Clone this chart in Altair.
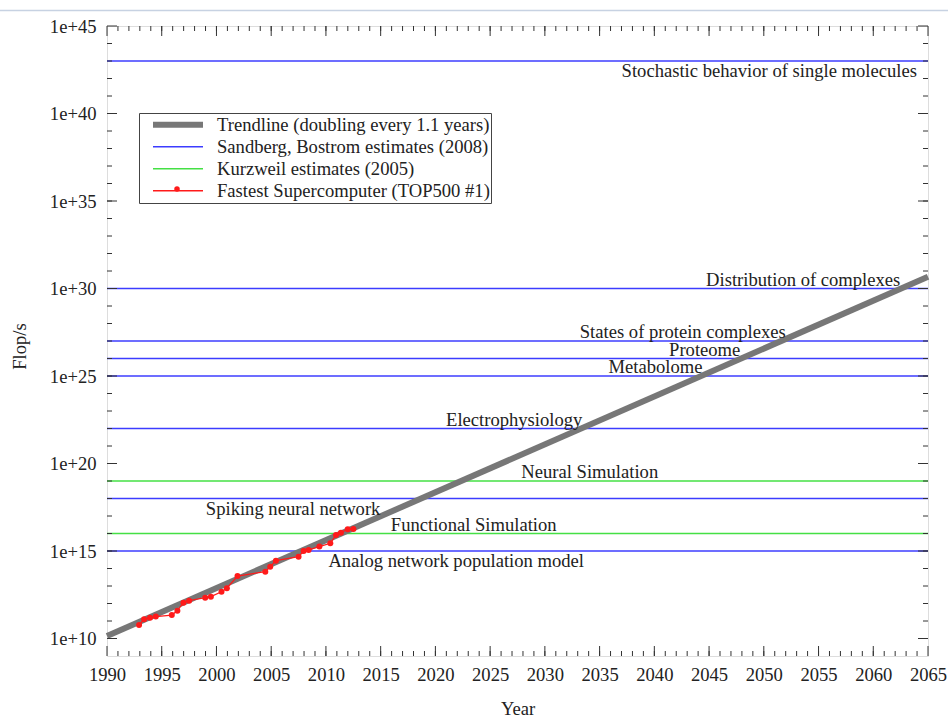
import altair as alt
import pandas as pd

FONT = "Liberation Serif"
FS = 18.6

# ---- data -------------------------------------------------------------
series_names = [
    "Trendline (doubling every 1.1 years)",
    "Sandberg, Bostrom estimates (2008)",
    "Kurzweil estimates (2005)",
    "Fastest Supercomputer (TOP500 #1)",
]
series_colors = ["#777777", "#3c3cff", "#44e044", "#ff1a1a"]
series_widths = [6, 1.3, 1.3, 1.3]

trend_years = [1990, 2065]
trend_flops = [1.4e10, 4.7e30]

sc_years = [1992.93, 1993.39, 1993.93, 1994.46, 1995.92, 1996.43, 1996.98, 1997.5,
            1998.97, 1999.49, 2000.46, 2000.95, 2001.92, 2004.46, 2004.91, 2005.43,
            2007.5, 2007.96, 2008.42, 2009.4, 2010.4, 2010.92, 2011.37, 2011.99, 2012.51]
sc_flops = [5.9e10, 1.26e11, 1.55e11, 1.78e11, 2.19e11, 3.9e11, 1.12e12, 1.45e12,
            2.14e12, 2.45e12, 4.7e12, 7.4e12, 3.7e13, 6.6e13, 1.26e14, 2.8e14,
            4.7e14, 1.0e15, 1.15e15, 1.78e15, 2.75e15, 8.1e15, 1.12e16, 1.74e16, 1.82e16]

sandberg_values = [1e43, 1e30, 1e27, 1e26, 1e25, 1e22, 1e18, 1e15]
kurzweil_values = [1e19, 1e16]

label_text = ["Stochastic behavior of single molecules", "Distribution of complexes",
              "States of protein complexes", "Proteome", "Metabolome", "Electrophysiology",
              "Neural Simulation", "Spiking neural network", "Functional Simulation",
              "Analog network population model"]
label_value = [1e43, 1e30, 1e27, 1e26, 1e25, 1e22, 1e19, 1e18, 1e16, 1e15]
label_year = [2050.5, 2053.6, 2042.6, 2044.6, 2040.1, 2027.2, 2034.1, 2007.0, 2023.5, 2021.9]
label_side = ["below", "above", "above", "above", "above", "above", "above", "below", "above", "below"]

x_major = list(range(1990, 2066, 5))
x_minor = list(range(1991, 2065))
y_major_exp = [10, 15, 20, 25, 30, 35, 40, 45]
y_minor_exp = list(range(10, 45))

# ---- frames -----------------------------------------------------------
trend_df = pd.DataFrame({"year": trend_years, "flops": trend_flops, "series": series_names[0]})
sc_df = pd.DataFrame({"year": sc_years, "flops": sc_flops, "series": series_names[3]})
hl_df = pd.DataFrame({
    "flops": sandberg_values + kurzweil_values,
    "series": [series_names[1]] * len(sandberg_values) + [series_names[2]] * len(kurzweil_values),
})
lab_df = pd.DataFrame({"label": label_text, "flops": label_value, "year": label_year, "side": label_side})
xmaj_df = pd.DataFrame({"year": x_major})
xmin_df = pd.DataFrame({"year": x_minor})
ymaj_df = pd.DataFrame({"flops": [10.0 ** e for e in y_major_exp]})
ymin_df = pd.DataFrame({"flops": [10.0 ** e for e in y_minor_exp]})

W, H = 821, 630

xscale = alt.Scale(domain=[1990, 2065], nice=False, zero=False)
yscale = alt.Scale(type="log", domain=[1e9, 1e45], nice=False)

xaxis = alt.Axis(values=x_major, format="d", ticks=False, domain=False, grid=False,
                 labelFlush=False, labelOverlap=False,
                 labelFont=FONT, labelFontSize=FS, labelColor="#222", labelPadding=9,
                 title="Year", titleFont=FONT, titleFontSize=FS, titleFontWeight="normal",
                 titleColor="#222", titleX=W / 2, titleY=52, titleBaseline="middle")
yaxis = alt.Axis(values=[10.0 ** e for e in y_major_exp],
                 labelExpr="'1e+' + round(log(datum.value) / LN10)",
                 ticks=False, domain=False, grid=False, labelFlush=False, labelOverlap=False,
                 labelFont=FONT, labelFontSize=FS, labelColor="#222", labelPadding=11,
                 title="Flop/s", titleFont=FONT, titleFontSize=FS, titleFontWeight="normal",
                 titleColor="#222", titleX=-88, titleY=320, titleBaseline="middle")


def X(field="year"):
    return alt.X(f"{field}:Q", scale=xscale, axis=xaxis)


def Y(field="flops"):
    return alt.Y(f"{field}:Q", scale=yscale, axis=yaxis)


legend = alt.Legend(orient="none", legendX=32, legendY=87, title=None,
                    strokeColor="#444", padding=1,
                    labelFont=FONT, labelFontSize=FS, labelColor="#222",
                    symbolSize=2500, symbolOffset=10, labelOffset=11,
                    clipHeight=21.5, rowPadding=0, labelLimit=400)
color = alt.Color("series:N", scale=alt.Scale(domain=series_names, range=series_colors), legend=legend)
swidth = alt.StrokeWidth("series:N", scale=alt.Scale(type="ordinal", domain=series_names, range=series_widths),
                         legend=legend)

hlines = alt.Chart(hl_df).mark_rule().encode(y=Y(), color=color, strokeWidth=swidth)
trend = alt.Chart(trend_df).mark_line(strokeCap="butt").encode(x=X(), y=Y(), color=color, strokeWidth=swidth)
sc_line = alt.Chart(sc_df).mark_line().encode(x=X(), y=Y(), color=color, strokeWidth=swidth)
sc_pts = alt.Chart(sc_df).mark_circle(size=36, opacity=1, color="#ff1a1a").encode(x=X(), y=Y())

# dot on the red legend sample (legend glyph decoration)
legend_dot = alt.Chart(xmaj_df.head(1)).mark_circle(size=30, opacity=1, color="#ff1a1a").encode(
    x=alt.value(70), y=alt.value(163))

txt_kw = dict(font=FONT, fontSize=FS, color="#222", align="center", baseline="middle")
lab_above = alt.Chart(lab_df).transform_filter("datum.side == 'above'").mark_text(dy=-9, **txt_kw).encode(
    x=X(), y=Y(), text="label:N")
lab_below = alt.Chart(lab_df).transform_filter("datum.side == 'below'").mark_text(dy=10, **txt_kw).encode(
    x=X(), y=Y(), text="label:N")

tick_color = "#333"
xt = []
for df, ln in ((xmaj_df, 10), (xmin_df, 5)):
    xt.append(alt.Chart(df).mark_rule(color=tick_color).encode(x=X(), y=alt.value(H), y2=alt.value(H - ln)))
    xt.append(alt.Chart(df).mark_rule(color=tick_color).encode(x=X(), y=alt.value(0), y2=alt.value(ln)))
yt = []
for df, ln in ((ymaj_df, 10), (ymin_df, 5)):
    yt.append(alt.Chart(df).mark_rule(color=tick_color).encode(y=Y(), x=alt.value(0), x2=alt.value(ln)))
    yt.append(alt.Chart(df).mark_rule(color=tick_color).encode(y=Y(), x=alt.value(W), x2=alt.value(W - ln)))

top_line = alt.Chart(xmaj_df.head(1)).mark_rule(color="#c7d2e2", strokeWidth=1.5).encode(
    x=alt.value(-107), x2=alt.value(841), y=alt.value(-15.5))

chart = alt.layer(
    top_line, hlines, trend, lab_above, lab_below, sc_line, sc_pts, *xt, *yt, legend_dot
).properties(
    width=W, height=H,
    autosize=alt.AutoSizeParams(type="none"),
    padding={"left": 107, "top": 26, "right": 20, "bottom": 61},
).configure_view(stroke="#333", strokeWidth=1.4).configure(background="white")

chart.save("out.html", embed_options={"renderer": "svg", "actions": False})
